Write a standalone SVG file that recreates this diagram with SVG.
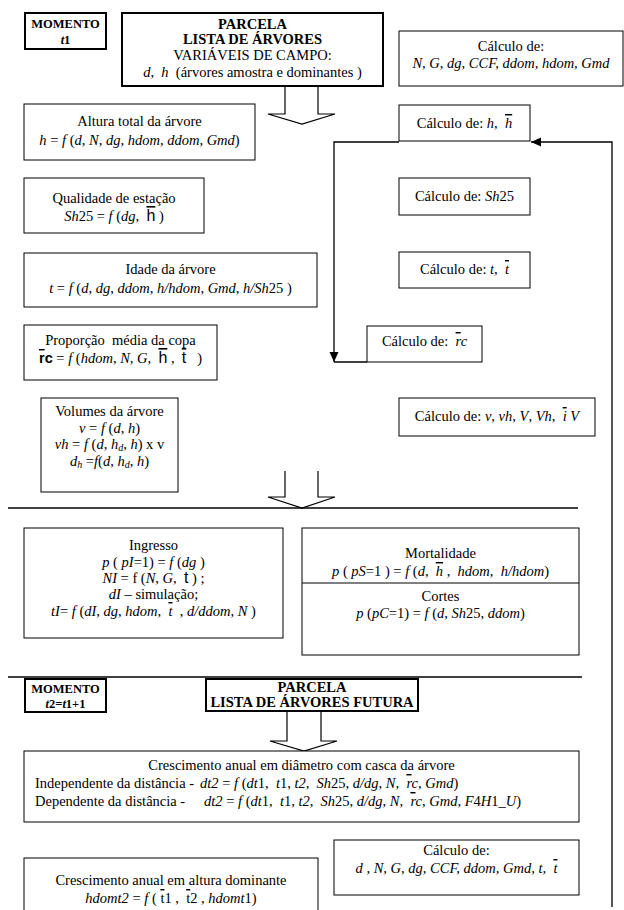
<svg xmlns="http://www.w3.org/2000/svg" width="624" height="910" viewBox="0 0 624 910">
<style>
text{font-family:"Liberation Serif","Times New Roman",serif;font-size:14.5px;fill:#000;white-space:pre}
.c{text-anchor:middle}
.i{font-style:italic}
.b{font-weight:bold}
.s{font-family:"Liberation Sans",Arial,sans-serif;font-style:normal}
.ob{text-decoration:overline}
.sub{font-size:10px}
.box{fill:#fff;stroke:#000;stroke-width:1}
.thick{fill:#fff;stroke:#000;stroke-width:2}
.ln{fill:none;stroke:#000;stroke-width:1.3}
.hollow{fill:#fff;stroke:#000;stroke-width:1.2}
</style>
<defs>
<marker id="ah" viewBox="0 0 10 10" refX="10" refY="5" markerWidth="10" markerHeight="10" markerUnits="userSpaceOnUse" orient="auto"><path d="M0,0.5 L10,5 L0,9.5 z" fill="#000"/></marker>
</defs>
<rect width="624" height="910" fill="#fff"/>
<g id="connectors">
<polyline class="hollow" points="285,86 285,114 268,114 302,124 335,114 318,114 318,86"/>
<polyline class="hollow" points="285,471 285,497 268,497 302,508 335,497 318,497 318,471"/>
<polyline class="hollow" points="287,711 287,741 270,741 304,751 337,741 321,741 321,711"/>
<line class="ln" x1="8" y1="508" x2="578" y2="508"/>
<line class="ln" x1="8" y1="677" x2="582" y2="677"/>
<path class="ln" d="M612,907 V142 H531" marker-end="url(#ah)"/>
<path class="ln" d="M399,142 H334 V362" marker-end="url(#ah)"/>
<line class="ln" x1="334" y1="362" x2="367" y2="362"/>
</g>
<g id="momento1">
<rect class="thick" x="25" y="13" width="81" height="36"/>
<text class="c b" x="65.5" y="28" style="font-size:12.5px">MOMENTO</text>
<text class="c b" x="65.5" y="44" style="font-size:12.5px"><tspan class="i">t</tspan>1</text>
</g>
<g id="parcela1">
<rect class="thick" x="122" y="13" width="261" height="73"/>
<text class="c b" x="252.5" y="29">PARCELA</text>
<text class="c b" x="252.5" y="44">LISTA DE ÁRVORES</text>
<text class="c" x="252.5" y="60">VARIÁVEIS DE CAMPO:</text>
<text class="c" x="252.5" y="77"><tspan class="i">d</tspan>,  <tspan class="i">h</tspan>  (árvores amostra e dominantes )</text>
</g>
<g id="calc-stand1">
<rect class="box" x="399" y="31" width="224" height="55"/>
<text class="c" x="511" y="51">Cálculo de:</text>
<text class="c i" x="511" y="68">N, G, dg, CCF, ddom, hdom, Gmd</text>
</g>
<g id="altura">
<rect class="box" x="24" y="104" width="231" height="56"/>
<text class="c" x="139.5" y="126">Altura total da árvore</text>
<text class="c" x="139.5" y="145"><tspan class="i">h</tspan> = <tspan class="i">f</tspan> (<tspan class="i">d</tspan>, <tspan class="i">N</tspan>, <tspan class="i">dg</tspan>, <tspan class="i">hdom</tspan>, <tspan class="i">ddom</tspan>, <tspan class="i">Gmd</tspan>)</text>
</g>
<g id="calc-h">
<rect class="box" x="399" y="105" width="131" height="36"/>
<text class="c" x="464.5" y="128">Cálculo de: <tspan class="i">h</tspan>,  <tspan class="i ob">h</tspan></text>
</g>
<g id="qualidade">
<rect class="box" x="24" y="178" width="180" height="55"/>
<text class="c" x="114" y="203">Qualidade de estação</text>
<text class="c" x="114" y="221"><tspan class="i">Sh</tspan>25 = <tspan class="i">f</tspan> (<tspan class="i">dg</tspan>,  <tspan class="s ob" style="font-size:16px">h</tspan> )</text>
</g>
<g id="calc-sh25">
<rect class="box" x="399" y="178" width="131" height="37"/>
<text class="c" x="464.5" y="201">Cálculo de: <tspan class="i">Sh</tspan>25</text>
</g>
<g id="idade">
<rect class="box" x="24" y="253" width="293" height="54"/>
<text class="c" x="170.5" y="274">Idade da árvore</text>
<text class="c" x="170.5" y="293"><tspan class="i">t</tspan> = <tspan class="i">f</tspan> (<tspan class="i">d</tspan>, <tspan class="i">dg</tspan>, <tspan class="i">ddom</tspan>, <tspan class="i">h/hdom</tspan>, <tspan class="i">Gmd</tspan>, <tspan class="i">h/Sh</tspan>25 )</text>
</g>
<g id="calc-t">
<rect class="box" x="399" y="252" width="131" height="36"/>
<text class="c" x="464.5" y="274">Cálculo de: <tspan class="i">t</tspan>,  <tspan class="i ob">t</tspan></text>
</g>
<g id="proporcao">
<rect class="box" x="24" y="325" width="193" height="55"/>
<text class="c" x="120.5" y="345">Proporção  média da copa</text>
<text class="c" x="120.5" y="363"><tspan class="s b ob">r</tspan><tspan class="s b">c</tspan> = <tspan class="i">f</tspan> (<tspan class="i">hdom</tspan>, <tspan class="i">N</tspan>, <tspan class="i">G</tspan>,  <tspan class="s ob" style="font-size:16px">h</tspan> ,  <tspan class="s ob" style="font-size:16px">t</tspan>   )</text>
</g>
<g id="calc-rc">
<rect class="box" x="367" y="326" width="115" height="36"/>
<text class="c" x="424.5" y="346">Cálculo de:  <tspan class="i ob">r</tspan><tspan class="i">c</tspan></text>
</g>
<g id="volumes">
<rect class="box" x="41" y="398" width="137" height="94"/>
<text class="c" x="109.5" y="416">Volumes da árvore</text>
<text class="c" x="109.5" y="433"><tspan class="i">v</tspan> = <tspan class="i">f</tspan> (<tspan class="i">d</tspan>, <tspan class="i">h</tspan>)</text>
<text class="c" x="109.5" y="449"><tspan class="i">vh</tspan> = <tspan class="i">f</tspan> (<tspan class="i">d</tspan>, <tspan class="i">h</tspan><tspan class="i sub" dy="2">d</tspan><tspan dy="-2">, </tspan><tspan class="i">h</tspan>) x v</text>
<text class="c" x="109.5" y="466"><tspan class="i">d</tspan><tspan class="i sub" dy="2">h</tspan><tspan dy="-2"> =</tspan><tspan class="i">f</tspan>(<tspan class="i">d</tspan>, <tspan class="i">h</tspan><tspan class="i sub" dy="2">d</tspan><tspan dy="-2">, </tspan><tspan class="i">h</tspan>)</text>
</g>
<g id="calc-v">
<rect class="box" x="399" y="398" width="196" height="38"/>
<text class="c" x="497" y="421">Cálculo de: <tspan class="i">v</tspan>, <tspan class="i">vh</tspan>, <tspan class="i">V</tspan>, <tspan class="i">Vh</tspan>,  <tspan class="i ob">i</tspan> <tspan class="i">V</tspan></text>
</g>
<g id="ingresso">
<rect class="box" x="24" y="528" width="259" height="110"/>
<text class="c" x="153.5" y="550">Ingresso</text>
<text class="c" x="153.5" y="567"><tspan class="i">p</tspan> ( <tspan class="i">pI</tspan>=1) = <tspan class="i">f</tspan> (<tspan class="i">dg</tspan> )</text>
<text class="c" x="153.5" y="583"><tspan class="i">NI</tspan> = f (<tspan class="i">N</tspan>, <tspan class="i">G</tspan>,  <tspan class="s" style="font-size:16px">t</tspan> ) ;</text>
<text class="c" x="153.5" y="599"><tspan class="i">dI</tspan> – simulação;</text>
<text class="c" x="153.5" y="616"><tspan class="i">tI</tspan>= <tspan class="i">f</tspan> (<tspan class="i">dI</tspan>, <tspan class="i">dg</tspan>, <tspan class="i">hdom</tspan>,  <tspan class="i ob">t</tspan>  , <tspan class="i">d/ddom</tspan>, <tspan class="i">N</tspan> )</text>
</g>
<g id="mortalidade-cortes">
<rect class="box" x="302" y="528" width="277" height="127"/>
<line class="box" x1="302" y1="583" x2="579" y2="583"/>
<text class="c" x="440.5" y="558">Mortalidade</text>
<text class="c" x="440.5" y="576"><tspan class="i">p</tspan> ( <tspan class="i">pS</tspan>=1 ) = <tspan class="i">f</tspan> (<tspan class="i">d</tspan>,  <tspan class="i ob">h</tspan> ,  <tspan class="i">hdom</tspan>,  <tspan class="i">h/hdom</tspan>)</text>
<text class="c" x="440.5" y="601">Cortes</text>
<text class="c" x="440.5" y="618"><tspan class="i">p</tspan> (<tspan class="i">pC</tspan>=1) = <tspan class="i">f</tspan> (<tspan class="i">d</tspan>, <tspan class="i">Sh</tspan>25, <tspan class="i">ddom</tspan>)</text>
</g>
<g id="momento2">
<rect class="thick" x="25" y="679" width="81" height="33"/>
<text class="c b" x="65.5" y="693" style="font-size:12.5px">MOMENTO</text>
<text class="c b" x="65.5" y="708" style="font-size:12.5px"><tspan class="i">t</tspan>2=<tspan class="i">t</tspan>1+1</text>
</g>
<g id="parcela2">
<rect class="thick" x="206" y="679" width="212" height="32"/>
<text class="c b" x="312" y="692">PARCELA</text>
<text class="c b" x="312" y="707">LISTA DE ÁRVORES FUTURA</text>
</g>
<g id="crescimento-diametro">
<rect class="box" x="24" y="751" width="555" height="71"/>
<text class="c" x="301.5" y="770">Crescimento anual em diâmetro com casca da árvore</text>
<text x="35" y="788">Independente da distância -</text>
<text x="200" y="788"><tspan class="i">dt2</tspan> = <tspan class="i">f</tspan> (<tspan class="i">dt</tspan>1,  <tspan class="i">t</tspan>1, <tspan class="i">t2</tspan>,  <tspan class="i">Sh</tspan>25, <tspan class="i">d/dg</tspan>, <tspan class="i">N</tspan>,  <tspan class="i ob">r</tspan><tspan class="i">c</tspan>, <tspan class="i">Gmd</tspan>)</text>
<text x="35" y="806">Dependente da distância -</text>
<text x="204" y="806"><tspan class="i">dt2</tspan> = <tspan class="i">f</tspan> (<tspan class="i">dt</tspan>1,  <tspan class="i">t</tspan>1, <tspan class="i">t2</tspan>,  <tspan class="i">Sh</tspan>25, <tspan class="i">d/dg</tspan>, <tspan class="i">N</tspan>,  <tspan class="i ob">r</tspan><tspan class="i">c</tspan>, <tspan class="i">Gmd</tspan>, <tspan class="i">F</tspan>4<tspan class="i">H</tspan>1<tspan class="i">_U</tspan>)</text>
</g>
<g id="calc-stand2">
<rect class="box" x="334" y="840" width="245" height="55"/>
<text class="c" x="456.5" y="855">Cálculo de:</text>
<text class="c i" x="456.5" y="873">d , N, G, dg, CCF, ddom, Gmd, t,  <tspan class="ob">t</tspan></text>
</g>
<g id="crescimento-altura">
<rect class="box" x="24" y="858" width="294" height="70"/>
<text class="c" x="171" y="885">Crescimento anual em altura dominante</text>
<text class="c" x="171" y="903"><tspan class="i">hdomt2</tspan> = <tspan class="i">f</tspan> ( <tspan class="ob">t</tspan>1 ,  <tspan class="ob">t</tspan>2 , <tspan class="i">hdomt</tspan>1)</text>
</g>
</svg>
